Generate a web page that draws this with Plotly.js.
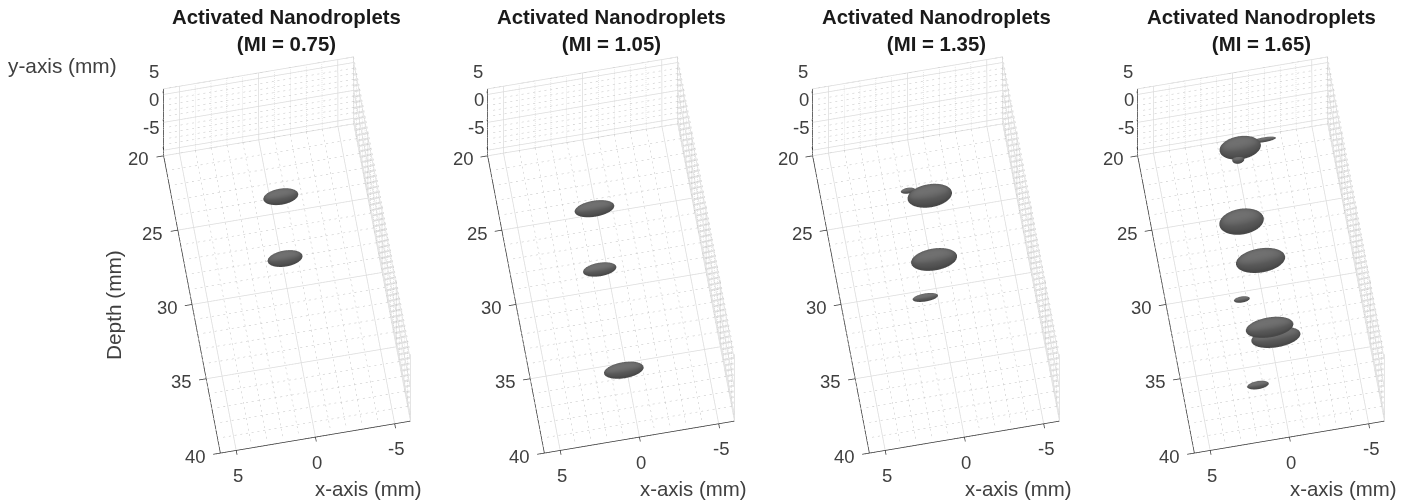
<!DOCTYPE html>
<html><head><meta charset="utf-8">
<script src="https://cdn.plot.ly/plotly-3.0.1.min.js"></script>
<style>html,body{margin:0;padding:0;background:#fff}#c{width:1413px;height:502px}</style></head>
<body><div id="c"></div>
<script>
const W=1413,H=502;
const miLabels=['0.75','1.05','1.35','1.65'];
// droplets: x (mm), y (mm), depth (mm), semi-axes in x, and in y/depth (mm)
const dropX=[[-0.30,0.16],[0.47,0.86,0.56],[-0.31,0.17,1.15,0.96],[0.02,-1.53,0.28,0.80,0.09,1.69,0.37,0.0,1.70]];
const dropY=[[0,0],[0,0,0],[0,0,0,0],[0,0,0,0,0,0,0.8,-0.8,0]];
const dropD=[[26.13,30.21],[26.8,30.82,37.65],[26.07,30.27,32.65,25.5],[22.78,22.52,23.54,27.61,30.35,32.69,35.1,35.24,38.45]];
const dropRx=[[1.1,1.1],[1.25,1.05,1.25],[1.4,1.45,0.8,0.45],[1.3,0.75,0.38,1.4,1.55,0.5,1.5,1.55,0.68]];
const dropRm=[[0.5,0.5],[0.5,0.42,0.5],[0.72,0.68,0.25,0.18],[0.72,0.15,0.25,0.8,0.75,0.19,0.62,0.62,0.25]];
const xTicks=[5,0,-5], yTicks=[5,0,-5], dTicks=[20,25,30,35,40];
const xLim=[-6,6], yLim=[-6,6], dLim=[20,40];
const panelCx=[286.5,611,936,1261];
const centerY=255, domW=300, domH=470;

function ellipsoid(cx,cy,cz,rx,ry,rz){
  const n=36,m=24,X=[],Y=[],Z=[],I=[],J=[],K=[];
  for(let a=0;a<=m;a++){const t=Math.PI*a/m;
    for(let b=0;b<n;b++){const p=2*Math.PI*b/n;
      X.push(cx+rx*Math.sin(t)*Math.cos(p));
      Y.push(cy+ry*Math.cos(t));
      Z.push(cz+rz*Math.sin(t)*Math.sin(p));}}
  for(let a=0;a<m;a++)for(let b=0;b<n;b++){
    const p=a*n+b,q=a*n+(b+1)%n,r=(a+1)*n+b,s=(a+1)*n+(b+1)%n;
    I.push(p,q);J.push(r,r);K.push(q,s);}
  return {x:X,y:Y,z:Z,i:I,j:J,k:K};
}
const intsBetween=(a,b)=>{const o=[];for(let v=a;v<=b;v++)o.push(v);return o;};
const traces=[],layout={width:W,height:H,margin:{l:0,r:0,t:0,b:0},paper_bgcolor:'#fff',showlegend:false,annotations:[]};
function lines(sc,segs,color,width){
  const x=[],y=[],z=[];
  segs.forEach(s=>{s.forEach(p=>{x.push(p[0]);y.push(p[1]);z.push(p[2]);});x.push(null);y.push(null);z.push(null);});
  traces.push({type:'scatter3d',mode:'lines',scene:sc,hoverinfo:'skip',x,y,z,connectgaps:false,
    line:{color:color,width:width}});
}
// a dotted grid line: short strokes along a segment
function dotted(out,a,b){
  const dist=Math.hypot(b[0]-a[0],b[1]-a[1],b[2]-a[2]);
  const period=0.36,stroke=0.13,n=Math.floor(dist/period);
  for(let t=0;t<n;t++){
    const f=t*period/dist,g=(t*period+stroke)/dist;
    out.push([[a[0]+(b[0]-a[0])*f,a[1]+(b[1]-a[1])*f,a[2]+(b[2]-a[2])*f],
              [a[0]+(b[0]-a[0])*g,a[1]+(b[1]-a[1])*g,a[2]+(b[2]-a[2])*g]]);
  }
}
const PAD=0.6;
miLabels.forEach((mi,i)=>{
  const sc=i?'scene'+(i+1):'scene';
  const c=panelCx[i];
  const ax=(rng,vals)=>({range:rng,tickvals:vals,showticklabels:false,showline:false,zeroline:false,showgrid:false,
    showbackground:false,showspikes:false,ticks:'',title:{text:''}});
  const annots=[];
  const tf={family:'Liberation Sans, Arial',size:18.5,color:'#404040'};
  xTicks.forEach(v=>annots.push({x:v,y:-6,z:40,text:String(v),showarrow:false,font:tf,xanchor:'center',yanchor:'middle',yshift:-25,xshift:2}));
  dTicks.forEach(v=>annots.push({x:6,y:-6,z:v,text:String(v),showarrow:false,font:tf,xanchor:'right',yanchor:'middle',xshift:-12,yshift:-3}));
  yTicks.forEach(v=>annots.push({x:6,y:v,z:20,text:String(v),showarrow:false,font:tf,xanchor:'right',yanchor:'middle',xshift:-2,yshift:23}));
  layout[sc]={domain:{x:[(c-domW/2)/W,(c+domW/2)/W],y:[1-(centerY+domH/2)/H,1-(centerY-domH/2)/H]},
    xaxis:ax([xLim[0]-PAD,xLim[1]+PAD],xTicks),yaxis:ax([yLim[0]-PAD,yLim[1]+PAD],yTicks),zaxis:ax([dLim[1]+PAD,dLim[0]-PAD],dTicks),
    aspectmode:'manual',aspectratio:{x:0.9042,y:0.9042,z:1.4522},
    camera:{projection:{type:'orthographic'},center:{x:0,y:0,z:0},
      eye:{x:0.12,y:1.87,z:-0.68},up:{x:-0.165,y:0.344,z:0.92}},
    annotations:annots,bgcolor:'rgba(0,0,0,0)'};
  // grids on the three back planes
  const minor=[],major=[];
  const add=(isMinor,a,b)=>{ if(isMinor) dotted(minor,a,b); else major.push([a,b]); };
  intsBetween(-6,6).forEach(v=>{
    const m=v%5!==0;
    add(m,[v,-6,20],[v,-6,40]);
    add(m,[v,-6,20],[v,6,20]);
    add(m,[-6,v,20],[-6,v,40]);
    add(m,[-6,v,20],[6,v,20]);
  });
  intsBetween(20,40).forEach(v=>{
    const m=v%5!==0;
    add(m,[-6,-6,v],[6,-6,v]);
    add(m,[-6,-6,v],[-6,6,v]);
  });
  // box edges of back planes that are not tick values
  major.push([[6,-6,20],[-6,-6,20]],[[-6,-6,20],[-6,-6,40]],[[-6,-6,20],[-6,6,20]],[[6,6,20],[-6,6,20]]);
  lines(sc,minor,'#c0c0c0',1);
  lines(sc,major,'#dcdcdc',1.5);
  // axis lines and tick marks
  const axisSegs=[[[6,6,20],[6,-6,20]],[[6,-6,20],[6,-6,40]],[[6,-6,40],[-6,-6,40]]];
  dTicks.forEach(v=>axisSegs.push([[6,-6,v],[6.45,-6,v]]));
  xTicks.forEach(v=>axisSegs.push([[v,-6,40],[v,-6,40.3]]));
  yTicks.forEach(v=>axisSegs.push([[6,v,20],[6,v,19.8]]));
  lines(sc,axisSegs,'#333333',1.5);
  // droplets
  dropX[i].forEach((x,k)=>{
    const r=dropRm[i][k];
    const g=ellipsoid(x,dropY[i][k],dropD[i][k],dropRx[i][k],r,r);
    traces.push(Object.assign(g,{type:'mesh3d',scene:sc,color:'#5c5c5c',flatshading:false,hoverinfo:'skip',showscale:false,
      lighting:{ambient:0.78,diffuse:0.28,specular:0.22,roughness:0.5,fresnel:0.02,vertexnormalsepsilon:0,facenormalsepsilon:0},
      lightposition:{x:-100,y:1300,z:300}}));
  });
  layout.annotations.push({xref:'paper',yref:'paper',x:c/W,y:1-30.5/H,text:'<b>Activated Nanodroplets<br>(MI = '+mi+')</b>',showarrow:false,xanchor:'center',yanchor:'middle',
    font:{family:'Liberation Sans, Arial',size:20.4,color:'#1a1a1a'},align:'center'});
  layout.annotations.push({xref:'paper',yref:'paper',x:(368+[0,324.7,649.5,974.7][i])/W,y:1-489/H,text:'x-axis (mm)',showarrow:false,xanchor:'center',yanchor:'middle',
    font:{family:'Liberation Sans, Arial',size:20.4,color:'#404040'}});
});
const af={family:'Liberation Sans, Arial',size:20.8,color:'#404040'};
layout.annotations.push({xref:'paper',yref:'paper',x:63/W,y:1-65/H,text:'y-axis (mm)',showarrow:false,xanchor:'center',yanchor:'middle',font:af});
layout.annotations.push({xref:'paper',yref:'paper',x:113/W,y:1-305/H,text:'Depth (mm)',textangle:-90,showarrow:false,xanchor:'center',yanchor:'middle',font:af});
Plotly.newPlot('c',traces,layout,{displayModeBar:false});
</script></body></html>
